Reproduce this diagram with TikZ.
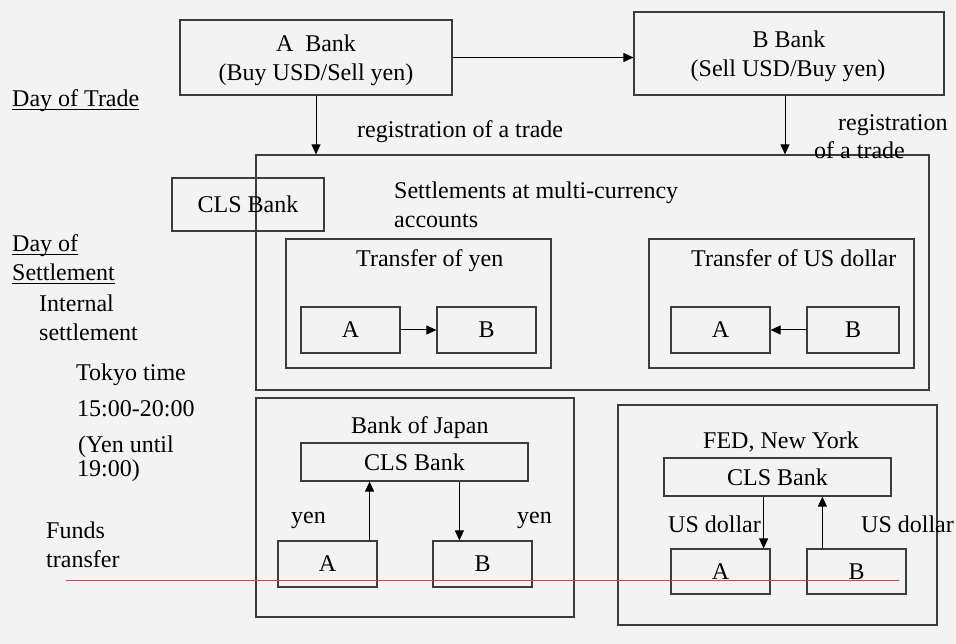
\documentclass[tikz,border=0pt]{standalone}
\usepackage{fontspec}
\setmainfont{Liberation Serif}
\usetikzlibrary{arrows.meta}
\definecolor{bgc}{RGB}{243,243,243}
\definecolor{boxc}{RGB}{60,60,60}
\definecolor{redl}{RGB}{225,60,70}
\begin{document}
\begin{tikzpicture}[x=1pt,y=-1pt,
  every node/.style={font=\fontsize{24}{29}\selectfont},
  box/.style={draw=boxc,line width=1.2pt,inner sep=0pt},
  txt/.style={inner sep=0pt},
  arr/.style={draw=black,line width=1pt,-{Triangle[length=10pt,width=9pt]}},
  uline/.style={draw=black,line width=1pt}]
\fill[bgc] (0,0) rectangle (956,644);
\useasboundingbox (0,0) rectangle (956,644);
% top banks
\node[box,minimum width=272pt,minimum height=75pt] (abank) at (316,57.5) {};
\node[txt,anchor=base] (abankt1) at (316,52) {A\ \ Bank};
\node[txt,anchor=base] (abankt2) at (316,81) {(Buy USD/Sell yen)};
\node[box,minimum width=310pt,minimum height=83pt] (bbank) at (789,53.5) {};
\node[txt,anchor=base] (bbankt1) at (789,48) {B Bank};
\node[txt,anchor=base] (bbankt2) at (788,77) {(Sell USD/Buy yen)};
% left labels
\node[txt,anchor=base west] (dot) at (12,107) {Day of Trade};
\draw[uline] ([yshift=-2.5pt]dot.base west) -- ([yshift=-2.5pt]dot.base east);
\node[txt,anchor=base west] (dos1) at (12,252) {Day of};
\draw[uline] ([yshift=-2.5pt]dos1.base west) -- ([yshift=-2.5pt]dos1.base east);
\node[txt,anchor=base west] (dos2) at (12,281) {Settlement};
\draw[uline] ([yshift=-2.5pt]dos2.base west) -- ([yshift=-2.5pt]dos2.base east);
\node[txt,anchor=base west] (int1) at (39,312) {Internal};
\node[txt,anchor=base west] (int2) at (39,341) {settlement};
\node[txt,anchor=base west] (tok1) at (76,381) {Tokyo time};
\node[txt,anchor=base west] (tok2) at (77,416) {15:00-20:00};
\node[txt,anchor=base west] (tok3) at (78,452) {(Yen until};
\node[txt,anchor=base west] (tok4) at (77,476) {19:00)};
\node[txt,anchor=base west] (fun1) at (46,538) {Funds};
\node[txt,anchor=base west] (fun2) at (46,567) {transfer};
% settlement area
\node[box,minimum width=673pt,minimum height=235pt] (settle) at (592.5,272.5) {};
\node[box,minimum width=152pt,minimum height=53pt] (cls) at (248,204.5) {CLS Bank};
\node[txt,anchor=base west] (reg1) at (357,138) {registration of a trade};
\node[txt,anchor=base west] (reg2) at (838,131) {registration};
\node[txt,anchor=base west] (reg3) at (814,159) {of a trade};
\node[txt,anchor=base west] (set1) at (394,199) {Settlements at multi-currency};
\node[txt,anchor=base west] (set2) at (394,228) {accounts};
\node[box,minimum width=265pt,minimum height=129pt] (yenbox) at (418.5,303.5) {};
\node[txt,anchor=base west] (yent) at (356,267) {Transfer of yen};
\node[box,minimum width=99pt,minimum height=46pt] (yA) at (350.5,330) {A};
\node[box,minimum width=99pt,minimum height=46pt] (yB) at (486.5,330) {B};
\node[box,minimum width=265pt,minimum height=129pt] (usdbox) at (781.5,303.5) {};
\node[txt,anchor=base west] (usdt) at (691,267) {Transfer of US dollar};
\node[box,minimum width=99pt,minimum height=46pt] (uA) at (720.5,330) {A};
\node[box,minimum width=92pt,minimum height=46pt] (uB) at (853,330) {B};
% Bank of Japan
\node[box,minimum width=318pt,minimum height=219pt] (boj) at (415,507.5) {};
\node[txt,anchor=base west] (bojt) at (351,433) {Bank of Japan};
\node[box,minimum width=227pt,minimum height=38pt] (bcls) at (414.5,462) {CLS Bank};
\node[box,minimum width=99pt,minimum height=46pt] (bA) at (327.5,564) {A};
\node[box,minimum width=99pt,minimum height=46pt] (bB) at (482.5,564) {B};
\node[txt,anchor=base west] (byen1) at (291,523) {yen};
\node[txt,anchor=base west] (byen2) at (517,523) {yen};
% FED
\node[box,minimum width=319pt,minimum height=220pt] (fed) at (777.5,515) {};
\node[txt,anchor=base] (fedt) at (781,448) {FED, New York};
\node[box,minimum width=227pt,minimum height=38pt] (fcls) at (777.5,477) {CLS Bank};
\node[box,minimum width=99pt,minimum height=45pt] (fA) at (720.5,571.5) {A};
\node[box,minimum width=99pt,minimum height=45pt] (fB) at (856.5,571.5) {B};
\node[txt,anchor=base west] (fus1) at (668,532) {US dollar};
\node[txt,anchor=base west] (fus2) at (861,532) {US dollar};
% arrows
\draw[arr] (abank.east) -- (abank.east -| bbank.west);
\draw[arr] (abank.south) -- (abank.south |- settle.north);
\draw[arr] ([xshift=-4pt]bbank.south) -- ([xshift=-4pt]bbank.south |- settle.north);
\draw[arr] (yA.east) -- (yB.west);
\draw[arr] (uB.west) -- (uA.east);
\draw[arr] ([xshift=-8pt]bA.north east) -- ([xshift=-8pt]bA.north east |- bcls.south);
\draw[arr] ([xshift=27pt]bB.north west |- bcls.south) -- ([xshift=27pt]bB.north west);
\draw[arr] ([xshift=-7pt]fA.north east |- fcls.south) -- ([xshift=-7pt]fA.north east);
\draw[arr] ([xshift=16pt]fB.north west) -- ([xshift=16pt]fB.north west |- fcls.south);
% red line
\coordinate (r1) at (66,580);
\coordinate (r2) at (899,580);
\draw[redl,line width=1pt] (r1) -- (r2);
\end{tikzpicture}
\end{document}
